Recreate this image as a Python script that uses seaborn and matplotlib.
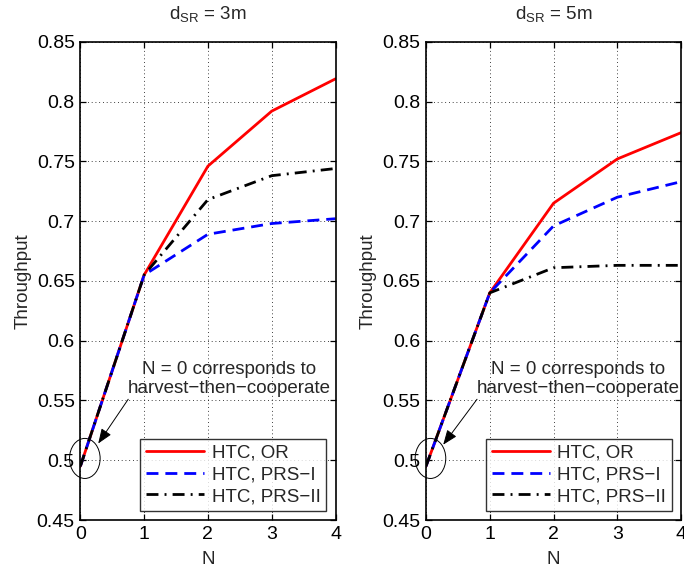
import matplotlib
matplotlib.use("Agg")
import matplotlib.pyplot as plt
import seaborn as sns
import pandas as pd
from matplotlib.patches import Ellipse

N = [0, 1, 2, 3, 4]
series_names = ["HTC, OR", "HTC, PRS\u2212I", "HTC, PRS\u2212II"]

left_or = [0.495, 0.655, 0.746, 0.792, 0.819]
left_prs1 = [0.495, 0.655, 0.689, 0.698, 0.702]
left_prs2 = [0.495, 0.655, 0.718, 0.738, 0.744]

right_or = [0.495, 0.640, 0.715, 0.752, 0.774]
right_prs1 = [0.495, 0.640, 0.696, 0.720, 0.733]
right_prs2 = [0.495, 0.640, 0.661, 0.663, 0.663]

titles = [r"d$_{\mathregular{SR}}$ = 3m", r"d$_{\mathregular{SR}}$ = 5m"]
annot_text = "N = 0 corresponds to\nharvest\u2212then\u2212cooperate"

sns.set_style("white")
plt.rcParams["font.family"] = ["Liberation Sans", "DejaVu Sans"]
plt.rcParams["mathtext.fontset"] = "custom"
plt.rcParams["mathtext.rm"] = "Liberation Sans"

def make_df(a, b, c):
    rows = []
    for name, vals in zip(series_names, [a, b, c]):
        for n, v in zip(N, vals):
            rows.append({"N": n, "Throughput": v, "Scheme": name})
    return pd.DataFrame(rows)

fig = plt.figure(figsize=(6.84, 5.70), dpi=100)
ax1 = fig.add_axes([0.1175, 0.0877, 0.373, 0.839])
ax2 = fig.add_axes([0.6228, 0.0877, 0.373, 0.839])

palette = {series_names[0]: "#ff0000", series_names[1]: "#0000ff", series_names[2]: "#000000"}
dash_map = {series_names[0]: "", series_names[1]: (4.3, 2.5), series_names[2]: (4.3, 2.2, 0.7, 2.2)}

configs = [
    (ax1, make_df(left_or, left_prs1, left_prs2), titles[0], (2.33, 0.568), (0.75, 0.551), (0.28, 0.514)),
    (ax2, make_df(right_or, right_prs1, right_prs2), titles[1], (2.38, 0.568), (0.80, 0.551), (0.27, 0.513)),
]

for ax, df, title, tpos, astart, aend in configs:
    sns.lineplot(data=df, x="N", y="Throughput", hue="Scheme", style="Scheme",
                 palette=palette, dashes=dash_map, linewidth=2.0, ax=ax)
    ax.set_xlim(0, 4)
    ax.set_ylim(0.45, 0.85)
    ax.set_xticks([0, 1, 2, 3, 4])
    ax.set_yticks([0.45, 0.5, 0.55, 0.6, 0.65, 0.7, 0.75, 0.8, 0.85])
    ax.set_yticklabels(["0.45", "0.5", "0.55", "0.6", "0.65", "0.7", "0.75", "0.8", "0.85"])
    ax.tick_params(direction="in", length=4, width=0.9, labelsize=14, top=True, right=True,
                   bottom=True, left=True, colors="black", pad=4)
    ax.grid(True, linestyle=(0, (1, 3.5)), color="black", linewidth=0.6)
    for s in ax.spines.values():
        s.set_color("black")
        s.set_linewidth(1.2)
    ax.set_xlabel("N", fontsize=13.5, labelpad=6)
    ax.set_ylabel("Throughput", fontsize=13.5, labelpad=4)
    ax.set_title(title, fontsize=13.5, pad=16)
    leg = ax.legend(loc="lower right", fontsize=13.5, handlelength=3.1, frameon=True,
                    fancybox=False, edgecolor="black", borderpad=0.3, labelspacing=0.25,
                    handletextpad=0.4, borderaxespad=0.5)
    leg.get_frame().set_linewidth(1.0)
    ax.text(tpos[0], tpos[1], annot_text, ha="center", va="center", fontsize=13.5,
            linespacing=1.1)
    ax.annotate("", xy=aend, xytext=astart,
                arrowprops=dict(arrowstyle="-|>,head_length=0.9,head_width=0.35", color="black",
                                lw=0.7, shrinkA=0, shrinkB=0))
    ax.add_patch(Ellipse((0.07, 0.5015), 0.48, 0.0335, fill=False, edgecolor="black",
                         linewidth=0.7, clip_on=False))

fig.savefig("out.png", dpi=100)
